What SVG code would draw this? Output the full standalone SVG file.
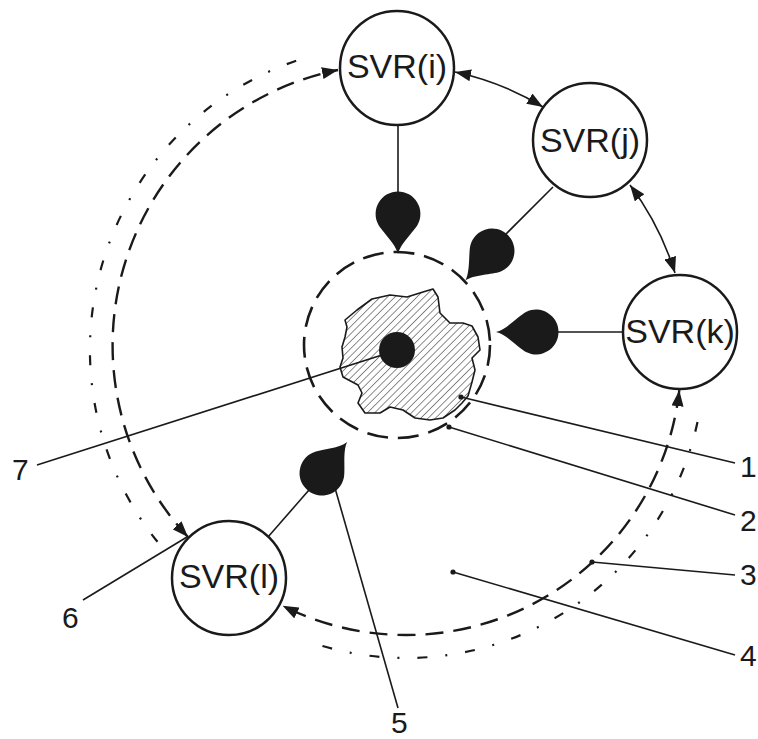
<svg xmlns="http://www.w3.org/2000/svg" width="758" height="739" viewBox="0 0 758 739">
<style>
.node circle{fill:#fff;stroke:#1a1a1a;stroke-width:2.5}
.node text{font-family:"Liberation Sans",Arial,sans-serif;font-size:34px;fill:#1a1a1a;text-anchor:middle}
.lbl{font-family:"Liberation Sans",Arial,sans-serif;font-size:30px;fill:#1a1a1a}
.ln{fill:none;stroke:#1a1a1a;stroke-width:1.6}
.dash{fill:none;stroke:#1a1a1a;stroke-width:2.4;stroke-dasharray:18 10}
.dashdot{fill:none;stroke:#1a1a1a;stroke-width:2.2;stroke-dasharray:10 18 2 18}
.arr{marker-start:url(#ah);marker-end:url(#ah)}
.drop{fill:#1a1a1a}
.dot{fill:#1a1a1a}
</style>
<defs>
<marker id="ah" viewBox="0 0 16 12" refX="16" refY="6" markerWidth="16" markerHeight="12" markerUnits="userSpaceOnUse" orient="auto-start-reverse"><path d="M0,0 L16,6 L0,12 z" fill="#1a1a1a"/></marker>
<path id="drop" d="M0,40 C2,30 16.4,17.1 20,10 A22.4,22.4 0 1 0 -20,10 C-16.4,17.1 -2,30 0,40 Z"/>
<pattern id="hatch" patternUnits="userSpaceOnUse" width="5.2" height="10" patternTransform="rotate(45)"><line x1="0" y1="0" x2="0" y2="10" stroke="#1a1a1a" stroke-width="1"/></pattern>
</defs>
<rect width="758" height="739" fill="#fff"/>

<g id="core">
<circle cx="397" cy="345" r="93" fill="none" stroke="#1a1a1a" stroke-width="2.6" stroke-dasharray="21 10"/>
<polygon points="345,320 357,310 372,299 390,295 407,297 423,292 433,289 438,297 440,313 450,323 463,323 472,326 478,337 480,350 472,358 475,370 472,382 468,396 462,403 455,410 443,418 430,420 415,418 403,410 390,407 380,413 365,413 358,403 362,393 358,385 343,377 340,367 343,358 342,347 345,337 347,327" fill="url(#hatch)" stroke="#1a1a1a" stroke-width="1.6" stroke-linejoin="round"/>
<circle cx="397" cy="350" r="18" fill="#1a1a1a"/>
</g>

<g id="connectors">
<path class="dash arr" d="M188,537 A281,281 0 0 1 338,70"/>
<path class="dashdot" d="M157.5,541.8 A306,306 0 0 1 307,57.2"/>
<path class="dash arr" d="M679.3,390.2 A275,275 0 0 1 282.6,605.8"/>
<path class="dashdot" d="M697.5,422 A298,298 0 0 1 316.4,644.2"/>
<path class="ln arr" d="M455,72 Q502,82 543,107"/>
<path class="ln arr" d="M630,185 Q660,225 675,273"/>
<line class="ln" x1="398" y1="125" x2="398" y2="195"/>
<line class="ln" x1="553" y1="187" x2="505" y2="235"/>
<line class="ln" x1="556" y1="332" x2="623" y2="332"/>
<line class="ln" x1="268" y1="537" x2="309" y2="490"/>
<use href="#drop" class="drop" transform="translate(398,214)"/>
<use href="#drop" class="drop" transform="translate(492,251) rotate(42)"/>
<use href="#drop" class="drop" transform="translate(536,332) rotate(90)"/>
<use href="#drop" class="drop" transform="translate(322,473) rotate(-141)"/>
<line class="ln" x1="37" y1="465" x2="382" y2="355"/>
<line class="ln" x1="83" y1="600" x2="187" y2="537"/>
<line class="ln" x1="335" y1="488" x2="398" y2="708"/>
<line class="ln" x1="461" y1="397" x2="735" y2="463"/>
<line class="ln" x1="449" y1="427" x2="735" y2="515"/>
<line class="ln" x1="592" y1="562" x2="735" y2="575"/>
<line class="ln" x1="453" y1="572" x2="735" y2="655"/>
<circle class="dot" cx="461" cy="397" r="2.6"/>
<circle class="dot" cx="449" cy="427" r="2.6"/>
<circle class="dot" cx="592" cy="562" r="2.6"/>
<circle class="dot" cx="453" cy="572" r="2.6"/>
</g>

<g id="node-svr-i" class="node"><circle cx="397" cy="68" r="57"/><text x="397" y="78">SVR(i)</text></g>
<g id="node-svr-j" class="node"><circle cx="590" cy="140" r="57"/><text x="590" y="152">SVR(j)</text></g>
<g id="node-svr-k" class="node"><circle cx="680" cy="332" r="57"/><text x="680" y="343">SVR(k)</text></g>
<g id="node-svr-l" class="node"><circle cx="229" cy="578" r="57"/><text x="229" y="588">SVR(l)</text></g>

<g id="labels">
<text class="lbl" x="12" y="480">7</text>
<text class="lbl" x="62" y="628">6</text>
<text class="lbl" x="391" y="733">5</text>
<text class="lbl" x="740" y="477">1</text>
<text class="lbl" x="740" y="531">2</text>
<text class="lbl" x="740" y="585">3</text>
<text class="lbl" x="740" y="666">4</text>
</g>
</svg>
